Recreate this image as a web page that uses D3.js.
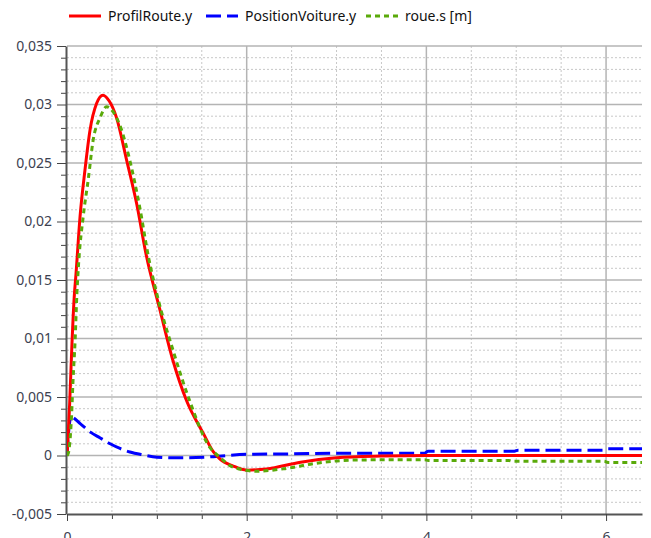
<!DOCTYPE html>
<html>
<head>
<meta charset="utf-8">
<script src="https://cdn.jsdelivr.net/npm/d3@7"></script>
<style>
    body { margin: 0; background: #fff; }
    text { font-family: "Noto Sans", "Open Sans", sans-serif; }
</style>
</head>
<body>
<div id="chart"></div>
<script>
// series names
const seriesNames = ["ProfilRoute.y", "PositionVoiture.y", "roue.s [m]"];

// ProfilRoute.y
const routeT = [0, 0.01, 0.03, 0.055, 0.08, 0.1, 0.145, 0.2, 0.256, 0.33, 0.4, 0.47, 0.55, 0.665, 0.776, 0.88, 1.036, 1.18, 1.33, 1.52, 1.63, 1.7, 1.85, 2.0, 2.22, 2.6, 3.0, 3.5, 4.0, 5.0, 6.0, 6.4];
const routeY = [0, 0.0012, 0.0045, 0.0095, 0.0135, 0.0155, 0.0204, 0.0244, 0.0278, 0.0301, 0.0308, 0.0303, 0.0289, 0.0252, 0.0215, 0.0172, 0.0124, 0.0081, 0.0047, 0.00185, 0.0003, -0.00028, -0.0009, -0.00125, -0.00115, -0.00057, -0.0002, -0.00005, 0, 0, 0, 0];

// PositionVoiture.y
const voitT = [0, 0.01, 0.045, 0.15, 0.26, 0.37, 0.48, 0.59, 0.7, 0.85, 1.0, 1.26, 1.63, 2.0, 2.5, 3.0, 3.98, 4.02, 4.98, 5.02, 5.98, 6.02, 6.4];
const voitY = [0, 0.0012, 0.0033, 0.0027, 0.002, 0.0015, 0.001, 0.0006, 0.0003, 0.00005, -0.00014, -0.0002, -0.0001, 0.0001, 0.00014, 0.0002, 0.0002, 0.00037, 0.00037, 0.00045, 0.00045, 0.00057, 0.00057];

// roue.s
const roueT = [0, 0.015, 0.05, 0.067, 0.09, 0.11, 0.13, 0.18, 0.24, 0.29, 0.37, 0.44, 0.52, 0.59, 0.7, 0.81, 0.906, 1.02, 1.18, 1.35, 1.59, 1.7, 1.85, 2.11, 2.41, 2.78, 3.15, 3.5, 3.98, 4.02, 4.92, 4.96, 5.98, 6.02, 6.4];
const roueY = [0, 0.0002, 0.0033, 0.0064, 0.0098, 0.0138, 0.0165, 0.0204, 0.0238, 0.0269, 0.0289, 0.0298, 0.0293, 0.0282, 0.0252, 0.0212, 0.017, 0.0132, 0.009, 0.005, 0.0007, -0.00014, -0.001, -0.00134, -0.00114, -0.00066, -0.0004, -0.00037, -0.00037, -0.00043, -0.00043, -0.0005, -0.0005, -0.0006, -0.0006];

// tick values
const xMajor = [0, 2, 4, 6];
const yMajor = [-0.005, 0, 0.005, 0.01, 0.015, 0.02, 0.025, 0.03, 0.035];

const width = 651,
    height = 538,
    margin = {top: 46, right: 9, bottom: 24, left: 67};

const locale = d3.formatLocale({decimal: ",", thousands: " ", grouping: [3], currency: ["", ""], minus: "-"});
const fmt = locale.format(".3~f");

const series = [
    {name: seriesNames[0], t: routeT, y: routeY, color: "#ff0000", dash: null},
    {name: seriesNames[1], t: voitT, y: voitY, color: "#0000ff", dash: "15,6"},
    {name: seriesNames[2], t: roueT, y: roueY, color: "#5aaa0a", dash: "5,4"}
];
series.forEach(s => s.values = s.t.map((t, i) => [t, s.y[i]]));

const x = d3.scaleLinear().domain([0, 6.4]).range([margin.left, width - margin.right]);
const y = d3.scaleLinear().domain([-0.005, 0.035]).range([height - margin.bottom, margin.top]);

const xMinor = d3.range(0, 6.41, 0.5).filter(v => !xMajor.includes(v));
const yMinor = d3.range(-5, 36, 1).map(v => v / 1000).filter(v => Math.round(v * 1000) % 5 !== 0);

const svg = d3.select("#chart")
    .append("svg")
    .attr("width", width)
    .attr("height", height);

svg.append("defs").append("clipPath")
    .attr("id", "plot")
    .append("rect")
    .attr("x", margin.left)
    .attr("y", margin.top - 2)
    .attr("width", width - margin.right - margin.left)
    .attr("height", height - margin.bottom - margin.top + 2);

// minor grid (dotted)
const grid = svg.append("g").attr("class", "grid");
grid.selectAll(".vminor")
    .data(xMinor)
    .enter().append("line")
    .attr("x1", d => x(d)).attr("x2", d => x(d))
    .attr("y1", margin.top).attr("y2", height - margin.bottom)
    .attr("stroke", "#c8c8c8")
    .attr("stroke-dasharray", "2,2");
grid.selectAll(".hminor")
    .data(yMinor)
    .enter().append("line")
    .attr("x1", margin.left).attr("x2", width - margin.right)
    .attr("y1", d => y(d)).attr("y2", d => y(d))
    .attr("stroke", "#c8c8c8")
    .attr("stroke-dasharray", "2,2");

// major grid
grid.selectAll(".vmajor")
    .data(xMajor.slice(1))
    .enter().append("line")
    .attr("x1", d => x(d)).attr("x2", d => x(d))
    .attr("y1", margin.top).attr("y2", height - margin.bottom)
    .attr("stroke", "#b4b4b4")
    .attr("stroke-width", 1.5);
grid.selectAll(".hmajor")
    .data(yMajor.slice(1))
    .enter().append("line")
    .attr("x1", margin.left).attr("x2", width - margin.right)
    .attr("y1", d => y(d)).attr("y2", d => y(d))
    .attr("stroke", "#b4b4b4")
    .attr("stroke-width", 1.5);

// axes
const yAxis = svg.append("g")
    .attr("transform", `translate(${margin.left - 1},0)`);
yAxis.call(d3.axisLeft(y).tickValues(yMinor).tickSize(5).tickFormat(""))
    .call(g => g.select(".domain").remove());
yAxis.append("g")
    .call(d3.axisLeft(y).tickValues(yMajor).tickSize(9).tickSizeOuter(0).tickPadding(5).tickFormat(fmt));

const xAxis = svg.append("g")
    .attr("transform", `translate(0,${height - margin.bottom})`);
xAxis.call(d3.axisBottom(x).tickValues(xMinor).tickSize(5).tickFormat(""))
    .call(g => g.select(".domain").remove());
xAxis.append("g")
    .call(d3.axisBottom(x).tickValues(xMajor).tickSize(7).tickSizeOuter(0).tickPadding(11).tickFormat(d3.format("d")));

svg.selectAll(".domain").attr("stroke", "#555").attr("stroke-width", 2);
svg.selectAll(".tick line").attr("stroke", "#444");
svg.selectAll(".tick text")
    .attr("fill", "#3c4150")
    .style("font-size", "14px")
    .style("font-family", "'Noto Sans', sans-serif");

// curves
const line = d3.line()
    .x(d => x(d[0]))
    .y(d => y(d[1]))
    .curve(d3.curveMonotoneX);

svg.append("g")
    .attr("clip-path", "url(#plot)")
    .selectAll("path")
    .data([series[1], series[0], series[2]])
    .enter().append("path")
    .attr("d", d => line(d.values))
    .attr("fill", "none")
    .attr("stroke", d => d.color)
    .attr("stroke-width", 3)
    .attr("stroke-dasharray", d => d.dash);

// legend
const legendX = [69, 206, 366];
const legend = svg.append("g")
    .selectAll("g")
    .data(series)
    .enter().append("g")
    .attr("transform", (d, i) => `translate(${legendX[i]},16)`);
legend.append("line")
    .attr("x1", 0).attr("x2", 32)
    .attr("stroke", d => d.color)
    .attr("stroke-width", 3)
    .attr("stroke-dasharray", d => d.dash);
legend.append("text")
    .attr("x", 39)
    .attr("y", 5)
    .attr("fill", "#111")
    .style("font-size", "14px")
    .text(d => d.name);
</script>
</body>
</html>
